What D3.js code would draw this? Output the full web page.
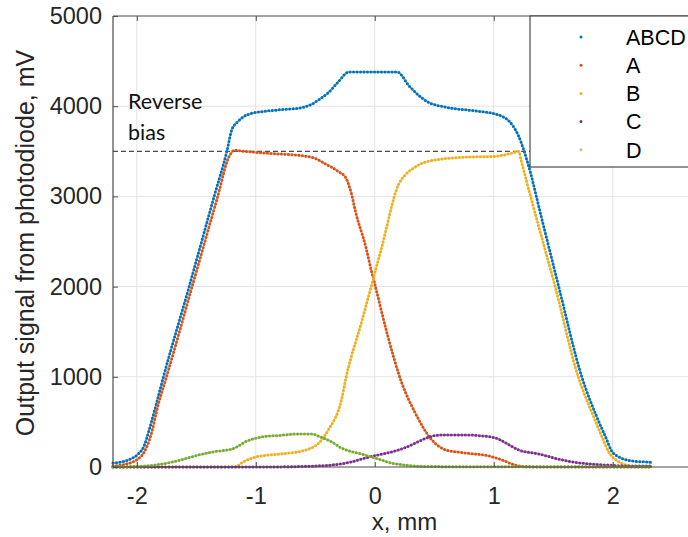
<!DOCTYPE html>
<html>
<head>
<meta charset="utf-8">
<script src="https://cdn.jsdelivr.net/npm/d3@7"></script>
<style>
  body { margin: 0; background: #fff; }
  svg { display: block; }
</style>
</head>
<body>
<div id="chart"></div>
<script>
// values (x in mm, signal in mV)
var abcdX = [-2.2, -2.13, -2.05, -2.0, -1.94, -1.89, -1.83, -1.776, -1.56, -1.35, -1.245, -1.2, -1.15, -1.06, -0.92, -0.75, -0.64, -0.53, -0.45, -0.39, -0.3, -0.22, 0.19, 0.29, 0.37, 0.45, 0.6, 0.87, 1.02, 1.13, 1.21, 1.294, 1.4, 1.546, 1.74, 1.866, 1.94, 1.99, 2.05, 2.11, 2.2, 2.28, 2.33];
var abcdY = [45, 55, 90, 130, 230, 440, 730, 1000, 2000, 3000, 3490, 3744, 3830, 3911, 3944, 3965, 3978, 4022, 4090, 4150, 4280, 4378, 4378, 4222, 4120, 4044, 3989, 3944, 3911, 3833, 3667, 3333, 2772, 2000, 1000, 556, 333, 180, 112, 80, 62, 55, 50];

var aX = [-2.2, -2.1, -2.0, -1.94, -1.88, -1.82, -1.75, -1.535, -1.32, -1.225, -1.18, -1.1, -1.0, -0.8, -0.64, -0.5, -0.41, -0.36, -0.3, -0.245, -0.2, -0.16, -0.076, -0.025, 0.0, 0.1, 0.227, 0.34, 0.48, 0.6, 0.76, 0.96, 1.07, 1.18, 1.25, 1.4, 2.33];
var aY = [10, 30, 80, 160, 360, 690, 1000, 2000, 3000, 3440, 3511, 3500, 3489, 3470, 3456, 3422, 3356, 3322, 3270, 3211, 3050, 2822, 2444, 2156, 2030, 1500, 933, 600, 300, 189, 156, 122, 78, 22, 5, 0, 0];

var bX = [-2.2, -1.18, -1.1, -1.0, -0.8, -0.61, -0.47, -0.39, -0.28, -0.24, -0.11, 0.0, 0.06, 0.2, 0.25, 0.31, 0.45, 0.73, 1.01, 1.18, 1.21, 1.23, 1.32, 1.516, 1.71, 1.84, 1.91, 1.97, 2.05, 2.12, 2.2, 2.33];
var bY = [0, 0, 60, 111, 144, 178, 267, 411, 744, 1000, 1611, 2150, 2444, 3133, 3230, 3300, 3389, 3433, 3444, 3489, 3500, 3400, 2950, 2000, 1000, 556, 333, 160, 60, 20, 5, 0];

var cX = [-2.2, -0.9, -0.64, -0.36, -0.2, -0.08, 0.05, 0.2, 0.3, 0.395, 0.48, 0.56, 0.76, 0.9, 0.98, 1.04, 1.1, 1.21, 1.38, 1.55, 1.69, 1.85, 1.97, 2.1, 2.33];
var cY = [0, 0, 5, 22, 55, 100, 140, 189, 240, 300, 340, 356, 356, 345, 333, 310, 267, 189, 145, 85, 50, 30, 20, 12, 10];

var dX = [-2.2, -2.05, -1.93, -1.8, -1.7, -1.6, -1.48, -1.35, -1.2, -1.15, -1.09, -0.95, -0.8, -0.64, -0.53, -0.47, -0.36, -0.28, -0.22, -0.1, -0.025, 0.05, 0.14, 0.25, 0.34, 0.5, 0.7, 2.33];
var dY = [0, 5, 11, 30, 55, 90, 133, 170, 200, 230, 278, 333, 350, 367, 367, 340, 278, 211, 180, 140, 111, 80, 44, 22, 11, 5, 3, 3];

var seriesNames = ['ABCD', 'A', 'B', 'C', 'D'];
var seriesColors = ['#0072BD', '#D95319', '#EDB120', '#7E2F8E', '#77AC30'];
var legendColors = ['#0072BD', '#D95319', '#EDB120', '#7E2F8E', '#C9C46A'];
var xTicks = [-2, -1, 0, 1, 2];
var yTicks = [0, 1000, 2000, 3000, 4000, 5000];
var biasLevel = 3500;

var W = 688, H = 537;
var pLeft = 113, pRight = 696, pTop = 16, pBottom = 467;
var axisFont = "Arial, 'Liberation Sans', sans-serif";

var svg = d3.select('#chart').append('svg')
    .attr('width', W)
    .attr('height', H);

var x = d3.scaleLinear().domain([-2.2, 2.7]).range([pLeft, pRight]);
var y = d3.scaleLinear().domain([0, 5000]).range([pBottom, pTop]);

// grid
svg.append('g').selectAll('line')
    .data(xTicks).enter().append('line')
    .attr('x1', d => x(d)).attr('x2', d => x(d))
    .attr('y1', pTop).attr('y2', pBottom)
    .attr('stroke', '#e3e3e3').attr('stroke-width', 1);
svg.append('g').selectAll('line')
    .data(yTicks.slice(1, -1)).enter().append('line')
    .attr('x1', pLeft).attr('x2', pRight)
    .attr('y1', d => y(d)).attr('y2', d => y(d))
    .attr('stroke', '#e3e3e3').attr('stroke-width', 1);

// reverse bias level
svg.append('line')
    .attr('x1', pLeft).attr('x2', pRight)
    .attr('y1', y(biasLevel)).attr('y2', y(biasLevel))
    .attr('stroke', '#222').attr('stroke-width', 1)
    .attr('stroke-dasharray', '5 3');

svg.append('text')
    .attr('x', 128).attr('y', 109)
    .style('font-family', "Lato, 'Open Sans', sans-serif")
    .style('font-size', '21.5px')
    .attr('fill', '#111')
    .text('Reverse');
svg.append('text')
    .attr('x', 128).attr('y', 140)
    .style('font-family', "Lato, 'Open Sans', sans-serif")
    .style('font-size', '21.5px')
    .attr('fill', '#111')
    .text('bias');

// series
var allX = [abcdX, aX, bX, cX, dX];
var allY = [abcdY, aY, bY, cY, dY];
var line = d3.line()
    .x(d => x(d[0]))
    .y(d => y(d[1]))
    .curve(d3.curveMonotoneX);

var curves = svg.append('g');
allX.forEach(function (xs, i) {
    var pts = xs.map((v, k) => [v, allY[i][k]]);
    var g = curves.append('g');
    g.append('path')
        .attr('d', line(pts))
        .attr('fill', 'none')
        .attr('stroke', seriesColors[i])
        .attr('stroke-opacity', 0.5)
        .attr('stroke-width', 2);
    g.append('path')
        .attr('d', line(pts))
        .attr('fill', 'none')
        .attr('stroke', seriesColors[i])
        .attr('stroke-width', 3)
        .attr('stroke-linecap', 'round')
        .attr('stroke-dasharray', '0 3.5');
});

// axes
var fmt = d => String(d);
var xAxis = d3.axisBottom(x).tickValues(xTicks).tickSize(-5).tickPadding(20).tickFormat(fmt);
var yAxis = d3.axisLeft(y).tickValues(yTicks).tickSize(-5).tickPadding(11).tickFormat(fmt);

var gx = svg.append('g').attr('transform', 'translate(0,' + pBottom + ')').call(xAxis);
var gy = svg.append('g').attr('transform', 'translate(' + pLeft + ',0)').call(yAxis);
var gxTop = svg.append('g').attr('transform', 'translate(0,' + pTop + ')')
    .call(d3.axisTop(x).tickValues(xTicks).tickSize(-5).tickFormat(''));

[gx, gy, gxTop].forEach(function (g) {
    g.select('.domain').attr('stroke', '#4a4a4a').attr('stroke-width', 1.2);
    g.selectAll('.tick line').attr('stroke', '#4a4a4a');
    g.selectAll('.tick text')
        .style('font-family', axisFont)
        .style('font-size', '23.5px')
        .attr('fill', '#262626');
});
gx.select('.domain').attr('d', 'M' + pLeft + ',0H' + pRight);
gy.select('.domain').attr('d', 'M0,' + pTop + 'V' + pBottom);
gxTop.select('.domain').attr('d', 'M' + pLeft + ',0H' + pRight);

svg.append('text')
    .attr('x', (pLeft + pRight) / 2).attr('y', 530)
    .attr('text-anchor', 'middle')
    .style('font-family', axisFont)
    .style('font-size', '24px')
    .attr('fill', '#262626')
    .text('x, mm');

svg.append('text')
    .attr('transform', 'translate(34,243) rotate(-90)')
    .attr('text-anchor', 'middle')
    .style('font-family', axisFont)
    .style('font-size', '25px')
    .attr('fill', '#262626')
    .text('Output signal from photodiode, mV');

// legend
var lg = svg.append('g');
lg.append('rect')
    .attr('x', 530).attr('y', pTop)
    .attr('width', 200).attr('height', 167 - pTop)
    .attr('fill', '#fff')
    .attr('stroke', '#262626').attr('stroke-width', 1);
var items = lg.selectAll('g')
    .data(seriesNames).enter().append('g')
    .attr('transform', (d, i) => 'translate(0,' + (37 + i * 28.2) + ')');
items.append('circle')
    .attr('cx', 581).attr('cy', 0).attr('r', 1.5)
    .attr('fill', (d, i) => legendColors[i]);
items.append('text')
    .attr('x', 626).attr('y', 0).attr('dy', '0.36em')
    .style('font-family', axisFont)
    .style('font-size', '21.5px')
    .attr('fill', '#000')
    .text(d => d);
</script>
</body>
</html>
